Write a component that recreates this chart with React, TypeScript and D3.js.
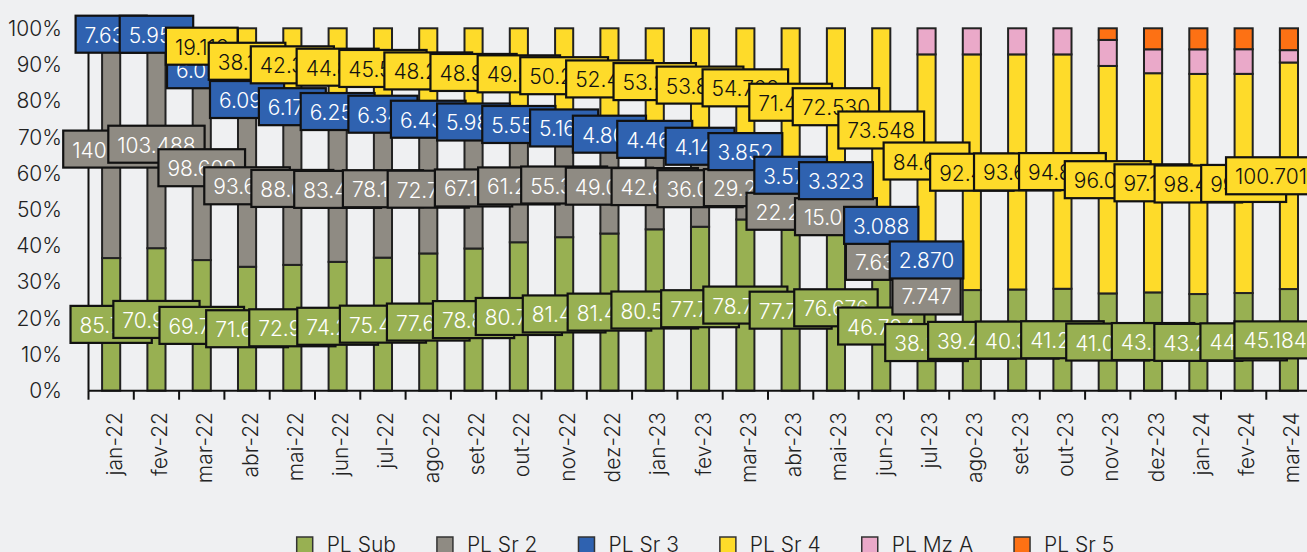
import React, { useMemo } from "react";
import * as d3 from "d3";

const months = [
  "jan-22", "fev-22", "mar-22", "abr-22", "mai-22", "jun-22", "jul-22", "ago-22", "set-22",
  "out-22", "nov-22", "dez-22", "jan-23", "fev-23", "mar-23", "abr-23", "mai-23", "jun-23",
  "jul-23", "ago-23", "set-23", "out-23", "nov-23", "dez-23", "jan-24", "fev-24", "mar-24",
];

const plSub = [85.712, 70.934, 69.745, 71.628, 72.953, 74.216, 75.438, 77.652, 78.841, 80.726, 81.437, 81.452, 80.563, 77.718, 78.735, 77.792, 76.676, 46.784, 38.215, 39.462, 40.318, 41.247, 41.083, 43.561, 43.224, 44.372, 45.184];
const plSr2 = [140.845, 103.488, 98.609, 93.627, 88.651, 83.472, 78.134, 72.718, 67.153, 61.274, 55.362, 49.083, 42.657, 36.072, 29.281, 22.254, 15.063, 7.638, 7.747, 0, 0, 0, 0, 0, 0, 0, 0];
const plSr3 = [7.634, 5.953, 6.021, 6.094, 6.172, 6.253, 6.341, 6.432, 5.987, 5.553, 5.164, 4.807, 4.463, 4.148, 3.852, 3.578, 3.323, 3.088, 2.870, 0, 0, 0, 0, 0, 0, 0, 0];
const plSr4 = [0, 0, 19.113, 38.112, 42.361, 44.817, 45.542, 48.236, 48.957, 49.531, 50.284, 52.473, 53.216, 53.845, 54.762, 71.438, 72.530, 73.548, 84.637, 92.418, 93.652, 94.836, 96.047, 97.125, 98.436, 99.573, 100.701];
const plMzA = [0, 0, 0, 0, 0, 0, 0, 0, 0, 0, 0, 0, 0, 0, 0, 0, 0, 0, 10.35, 10.23, 10.39, 10.56, 11.0, 10.6, 11.0, 11.2, 5.5];
const plSr5 = [0, 0, 0, 0, 0, 0, 0, 0, 0, 0, 0, 0, 0, 0, 0, 0, 0, 0, 0, 0, 0, 0, 4.9, 9.3, 9.4, 9.5, 9.7];

const yTicks = [0, 0.1, 0.2, 0.3, 0.4, 0.5, 0.6, 0.7, 0.8, 0.9, 1.0];

const SERIES = [
  { key: "PL Sub", values: plSub, color: "#98b052", text: "#ffffff", label: true },
  { key: "PL Sr 2", values: plSr2, color: "#8f8b83", text: "#ffffff", label: true },
  { key: "PL Sr 3", values: plSr3, color: "#2f62b0", text: "#ffffff", label: true },
  { key: "PL Sr 4", values: plSr4, color: "#fedb2a", text: "#111111", label: true },
  { key: "PL Mz A", values: plMzA, color: "#eaa9c9", text: "#111111", label: false },
  { key: "PL Sr 5", values: plSr5, color: "#fd7114", text: "#111111", label: false },
];

const FONT = "Inter, 'Liberation Sans', Arial, sans-serif";
const FW = 300;
const FS = 21;

let ctx: CanvasRenderingContext2D | null = null;
function textWidth(s: string, size = FS) {
  if (!ctx) ctx = document.createElement("canvas").getContext("2d");
  if (!ctx) return s.length * size * 0.55;
  ctx.font = `${FW} ${size}px Inter`;
  return ctx.measureText(s).width;
}

const W = 1320;
const H = 570;
const X0 = 88.5;
const STEP = 45.3;
const Y0 = 390.7;
const Y1 = 28.3;
const BOX_H = 37;
const PAD = 9;
const RIGHT_LIMIT = 1316;
const MIN_SEP = 36;

export default function App() {
  const rows = useMemo(
    () =>
      months.map((m, i) => {
        const r: Record<string, any> = { month: m };
        SERIES.forEach((s) => (r[s.key] = s.values[i]));
        return r;
      }),
    []
  );

  const x = d3
    .scaleBand<string>()
    .domain(months)
    .range([X0, X0 + STEP * months.length])
    .paddingInner(0.6)
    .paddingOuter(0.3);
  const y = d3.scaleLinear().domain([0, 1]).range([Y0, Y1]);

  const stacked = d3
    .stack<any>()
    .keys(SERIES.map((s) => s.key))
    .offset(d3.stackOffsetExpand)(rows);

  type Lab = { si: number; i: number; cx: number; cy: number; text: string; w: number };
  const labels: Lab[] = [];
  stacked.forEach((layer, si) => {
    if (!SERIES[si].label) return;
    layer.forEach((d, i) => {
      const v = SERIES[si].values[i];
      if (!v) return;
      const text = v.toFixed(3);
      const w = textWidth(text) + PAD * 2;
      let cx = (x(months[i]) as number) + x.bandwidth() / 2;
      if (cx + w / 2 > RIGHT_LIMIT) cx = RIGHT_LIMIT - w / 2;
      labels.push({ si, i, cx, cy: y((d[0] + d[1]) / 2), text, w });
    });
  });
  months.forEach((_, i) => {
    const ls = labels.filter((l) => l.i === i && l.si < 3).sort((a, b) => a.cy - b.cy);
    for (let it = 0; it < 20; it++) {
      for (let k = 0; k < ls.length - 1; k++) {
        const a = ls[k];
        const b = ls[k + 1];
        const sep = b.cy - a.cy;
        if (sep < MIN_SEP) {
          const dd = (MIN_SEP - sep) / 2;
          a.cy -= dd;
          b.cy += dd;
        }
      }
    }
  });

  const legendItems: { s: (typeof SERIES)[number]; mx: number; tx: number }[] = [];
  let lx = 296.7;
  SERIES.forEach((s) => {
    legendItems.push({ s, mx: lx, tx: lx + 30 });
    lx = lx + 30 + textWidth(s.key) + 41;
  });

  const ticks = d3.range(months.length + 1).map((k) => X0 + k * STEP);

  return (
    <div
      style={{
        position: "absolute",
        left: 0,
        top: 0,
        width: 1307,
        height: 552,
        overflow: "hidden",
        background: "#eff0f2",
      }}
    >
      <svg width={W} height={H} style={{ display: "block", fontFamily: FONT, fontWeight: FW }}>
        <rect x={0} y={0} width={W} height={H} fill="#eff0f2" />
        {stacked.map((layer, si) => (
          <g key={SERIES[si].key}>
            {layer.map((d, i) =>
              SERIES[si].values[i] > 0 ? (
                <rect
                  key={i}
                  x={x(months[i])}
                  width={x.bandwidth()}
                  y={y(d[1])}
                  height={y(d[0]) - y(d[1])}
                  fill={SERIES[si].color}
                  stroke="#222"
                  strokeWidth={2}
                />
              ) : null
            )}
          </g>
        ))}
        <line x1={X0} x2={X0} y1={Y1} y2={Y0} stroke="#111" strokeWidth={2} />
        <line x1={X0} x2={X0 + STEP * months.length} y1={Y0} y2={Y0} stroke="#111" strokeWidth={2} />
        {ticks.map((t, k) => (
          <line key={k} x1={t} x2={t} y1={Y0} y2={Y0 + 9} stroke="#111" strokeWidth={2} />
        ))}
        {yTicks.map((t) => (
          <text
            key={t}
            x={62}
            y={y(t)}
            textAnchor="end"
            dominantBaseline="central"
            fontSize={FS}
            fill="#222"
          >
            {`${Math.round(t * 100)}%`}
          </text>
        ))}
        {months.map((m) => {
          const cx = (x(m) as number) + x.bandwidth() / 2 + 3;
          return (
            <text
              key={m}
              transform={`translate(${cx},412) rotate(-90)`}
              textAnchor="end"
              dominantBaseline="central"
              fontSize={FS}
              fill="#222"
            >
              {m}
            </text>
          );
        })}
        {labels.map((l, k) => (
          <g key={k}>
            <rect
              x={l.cx - l.w / 2}
              y={l.cy - BOX_H / 2}
              width={l.w}
              height={BOX_H}
              fill={SERIES[l.si].color}
              stroke="#111"
              strokeWidth={2.2}
            />
            <text
              x={l.cx}
              y={l.cy + 1}
              textAnchor="middle"
              dominantBaseline="central"
              fontSize={FS}
              fill={SERIES[l.si].text}
            >
              {l.text}
            </text>
          </g>
        ))}
        {legendItems.map(({ s, mx, tx }) => (
          <g key={s.key}>
            <rect x={mx} y={537} width={16} height={16} fill={s.color} stroke="#333" strokeWidth={1.5} />
            <text x={tx} y={552} fontSize={FS} fill="#222">
              {s.key}
            </text>
          </g>
        ))}
      </svg>
    </div>
  );
}
